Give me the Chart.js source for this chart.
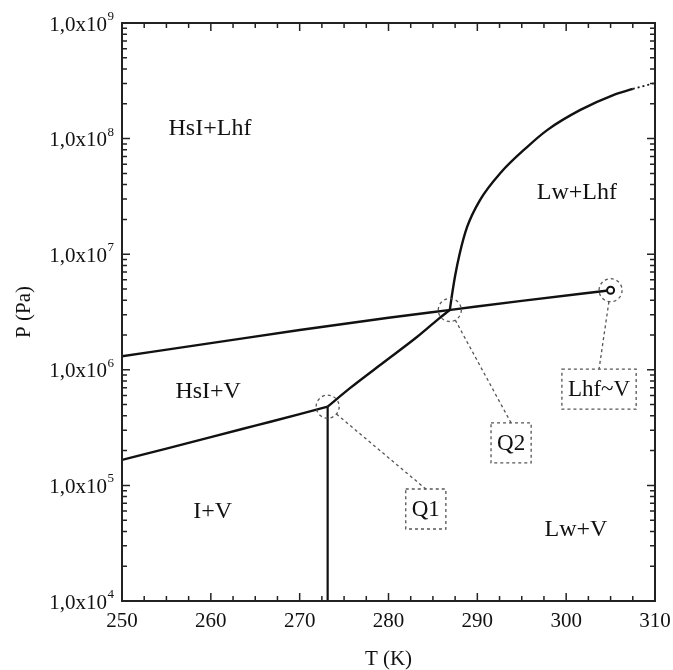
<!DOCTYPE html>
<html>
<head>
<meta charset="utf-8">
<script src="https://cdn.jsdelivr.net/npm/chart.js@4.4.1/dist/chart.umd.min.js"></script>
<style>
  html, body { margin: 0; padding: 0; background: #fff; }
</style>
</head>
<body>
<canvas id="chart" width="673" height="670"></canvas>
<script>
// axis ticks
const tempTicks = [250, 260, 270, 280, 290, 300, 310];
const presExps = [4, 5, 6, 7, 8, 9];

// vapour pressure line (Lhf / V), ends at the critical point
const vapT = [250, 260, 270, 280, 287, 295, 305];
const vapP = [1.31e6, 1.70e6, 2.21e6, 2.82e6, 3.30e6, 3.95e6, 4.88e6];

// hydrate / ice / vapour line up to Q1
const iceT = [250, 255, 260, 265, 270, 273.15];
const iceP = [1.66e5, 2.08e5, 2.62e5, 3.29e5, 4.13e5, 4.8e5];

// ice melting line
const meltT = [273.15, 273.15];
const meltP = [1e4, 4.8e5];

// hydrate / water / vapour from Q1 to Q2
const hydT = [273.15, 275.7, 279.4, 283.2, 285.5, 286.9];
const hydP = [4.8e5, 6.97e5, 1.15e6, 1.92e6, 2.70e6, 3.29e6];

// hydrate / water / liquid hydrocarbon from Q2 upward
const upT = [286.9, 287.1, 287.5, 288.0, 288.85, 290.3, 292.6, 295.6, 297.9, 301.6, 305.3, 307.5];
const upP = [3.29e6, 4.2e6, 6.5e6, 1.0e7, 1.72e7, 2.94e7, 5.04e7, 8.45e7, 1.19e8, 1.77e8, 2.38e8, 2.69e8];
// dotted extension
const extT = [307.5, 310];
const extP = [2.69e8, 3.03e8];

// region names
const regionText = ['HsI+Lhf', 'Lw+Lhf', 'HsI+V', 'I+V', 'Lw+V'];
const regionT = [259.9, 301.2, 259.7, 260.2, 301.1];
const regionP = [1.21e8, 3.38e7, 6.43e5, 5.89e4, 4.11e4];

// boxed callouts
const calloutText = ['Q1', 'Q2', 'Lhf~V'];
const calloutT = [284.2, 293.8, 303.7];
const calloutP = [6.25e4, 2.33e5, 6.8e5];

const Q1 = { x: iceT[iceT.length - 1], y: iceP[iceP.length - 1] };
const Q2 = { x: hydT[hydT.length - 1], y: hydP[hydP.length - 1] };
const crit = { x: vapT[vapT.length - 1], y: vapP[vapP.length - 1] };
const marked = [Q1, Q2, crit];

const toPts = (xs, ys) => xs.map((x, i) => ({ x: x, y: ys[i] }));

const serif = '"Liberation Serif", "Times New Roman", serif';
const ink = '#111';

const lineSet = (xs, ys, extra) => Object.assign({
  data: toPts(xs, ys),
  showLine: true,
  pointRadius: 0,
  borderColor: ink,
  borderWidth: 2.4,
  fill: false,
  cubicInterpolationMode: 'monotone'
}, extra || {});

const decor = {
  id: 'decor',
  afterDatasetsDraw(chart) {
    const ctx = chart.ctx;
    const xs = chart.scales.x;
    const ys = chart.scales.y;
    const a = chart.chartArea;

    ctx.save();
    // frame
    ctx.strokeStyle = '#222';
    ctx.lineWidth = 2;
    ctx.setLineDash([]);
    ctx.strokeRect(a.left, a.top, a.right - a.left, a.bottom - a.top);

    // x ticks, inward, bottom and top
    ctx.lineWidth = 1.5;
    for (let v = 250; v <= 310.001; v += 2.5) {
      const px = xs.getPixelForValue(v);
      const len = tempTicks.includes(v) ? 8 : 5;
      ctx.beginPath();
      ctx.moveTo(px, a.bottom); ctx.lineTo(px, a.bottom - len);
      ctx.moveTo(px, a.top); ctx.lineTo(px, a.top + len);
      ctx.stroke();
    }
    // y ticks, inward, left and right
    presExps.forEach(d => {
      for (let m = 1; m <= 9; m++) {
        if (d === 9 && m > 1) break;
        const py = ys.getPixelForValue(m * Math.pow(10, d));
        const len = m === 1 ? 8 : 5;
        ctx.beginPath();
        ctx.moveTo(a.left, py); ctx.lineTo(a.left + len, py);
        ctx.moveTo(a.right, py); ctx.lineTo(a.right - len, py);
        ctx.stroke();
      }
    });

    // tick labels
    ctx.fillStyle = ink;
    ctx.font = '21px ' + serif;
    ctx.textAlign = 'center';
    ctx.textBaseline = 'alphabetic';
    tempTicks.forEach(v => {
      ctx.fillText(String(v), xs.getPixelForValue(v), 627);
    });
    presExps.forEach(d => {
      const py = ys.getPixelForValue(Math.pow(10, d));
      ctx.font = '13px ' + serif;
      const ew = ctx.measureText(String(d)).width;
      const rightEdge = 114;
      ctx.textAlign = 'left';
      ctx.fillText(String(d), rightEdge - ew, py - 3);
      ctx.font = '21px ' + serif;
      ctx.textAlign = 'right';
      ctx.fillText('1,0x10', rightEdge - ew - 0.5, py + 7.5);
    });

    // axis titles
    ctx.font = '21px ' + serif;
    ctx.textAlign = 'center';
    ctx.fillText('T (K)', (a.left + a.right) / 2, 665);
    ctx.save();
    ctx.translate(30, (a.top + a.bottom) / 2);
    ctx.rotate(-Math.PI / 2);
    ctx.fillText('P (Pa)', 0, 0);
    ctx.restore();

    // region names
    ctx.font = '24px ' + serif;
    ctx.textBaseline = 'middle';
    regionText.forEach((t, i) => {
      ctx.fillText(t, xs.getPixelForValue(regionT[i]), ys.getPixelForValue(regionP[i]));
    });

    // dashed circles, leaders and boxes
    ctx.strokeStyle = '#555';
    ctx.lineWidth = 1.3;
    ctx.setLineDash([3, 3]);
    const r = 11.5;
    const halfH = 20;
    calloutText.forEach((t, i) => {
      const cx = xs.getPixelForValue(marked[i].x);
      const cy = ys.getPixelForValue(marked[i].y);
      ctx.beginPath();
      ctx.arc(cx, cy, r, 0, Math.PI * 2);
      ctx.stroke();

      const bx = xs.getPixelForValue(calloutT[i]);
      const by = ys.getPixelForValue(calloutP[i]);
      ctx.font = '23px ' + serif;
      const w = ctx.measureText(t).width + 12;
      const tx = bx, ty = by - halfH;
      const dx = tx - cx, dy = ty - cy;
      const dl = Math.hypot(dx, dy);
      ctx.beginPath();
      ctx.moveTo(cx + r * dx / dl, cy + r * dy / dl);
      ctx.lineTo(tx, ty);
      ctx.stroke();

      ctx.strokeRect(bx - w / 2, by - halfH, w, halfH * 2);
      ctx.fillStyle = ink;
      ctx.textAlign = 'center';
      ctx.textBaseline = 'middle';
      ctx.fillText(t, bx, by + 1);
    });
    ctx.restore();
  }
};

new Chart(document.getElementById('chart'), {
  type: 'scatter',
  data: {
    datasets: [
      {
        data: [crit],
        pointRadius: 3.5,
        pointBackgroundColor: '#fff',
        pointBorderColor: ink,
        pointBorderWidth: 2,
        showLine: false
      },
      lineSet(vapT, vapP),
      lineSet(iceT, iceP),
      lineSet(meltT, meltP, { borderWidth: 2.2 }),
      lineSet(hydT, hydP),
      lineSet(upT, upP),
      lineSet(extT, extP, { borderDash: [2, 3], borderWidth: 1.8 })
    ]
  },
  options: {
    responsive: false,
    animation: false,
    devicePixelRatio: 1,
    layout: { padding: { left: 122, right: 18, top: 23, bottom: 69 } },
    plugins: { legend: { display: false }, tooltip: { enabled: false } },
    scales: {
      x: { type: 'linear', display: false, min: 250, max: 310 },
      y: { type: 'logarithmic', display: false, min: 1e4, max: 1e9 }
    }
  },
  plugins: [decor]
});
</script>
</body>
</html>
